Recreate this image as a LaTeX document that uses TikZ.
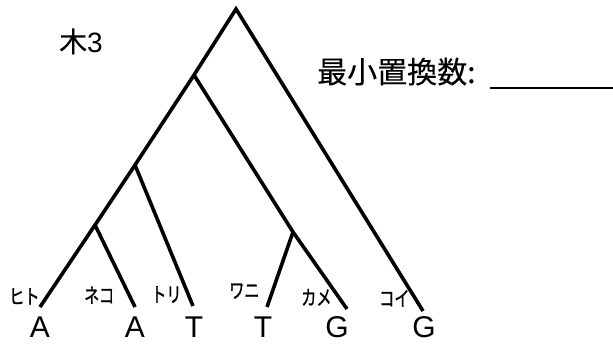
\documentclass[tikz,border=0pt]{standalone}
\usepackage{graphicx}
\usepackage{fontspec}
\setmainfont{Liberation Sans}
\newfontfamily\jp[FakeBold=0.3]{Noto Sans CJK JP}
\newfontfamily\jpsmall[FakeBold=1.2]{Noto Sans CJK JP}
\newcommand{\narrowjp}[1]{\scalebox{0.74}[1]{#1}}
\begin{document}
\begin{tikzpicture}[x=1pt,y=-1pt,
  branch/.style={line width=3.6pt},
  base/.style={font=\fontsize{30}{30}\selectfont, inner sep=0pt, anchor=base},
  sp/.style={font=\jpsmall\fontsize{20.5}{20.5}\selectfont, inner sep=0pt, anchor=base west}]
\useasboundingbox (0,0) rectangle (613,343);
% tree points
\coordinate (root) at (236,9);
\coordinate (n1) at (194,75);
\coordinate (n2) at (135,165);
\coordinate (n3) at (95,225);
\coordinate (n4) at (293,232);
\coordinate (l1) at (40,307);
\coordinate (l2) at (135,307);
\coordinate (l3) at (193,306);
\coordinate (l4) at (267,307);
\coordinate (l5) at (347,309);
\coordinate (l6) at (423,311);
\draw[branch] (l1) -- (n3) -- (n2) -- (n1) -- (root) -- (l6);
\draw[branch] (n3) -- (l2);
\draw[branch] (n2) -- (l3);
\draw[branch] (n1) -- (n4) -- (l5);
\draw[branch] (n4) -- (l4);
% bases
\node[base] (b1) at (40,337) {A};
\node[base] (b2) at (135,337) {A};
\node[base] (b3) at (194,337) {T};
\node[base] (b4) at (263,337) {T};
\node[base] (b5) at (337,337) {G};
\node[base] (b6) at (424,337) {G};
% species
\node[sp] (s1) at (9,304) {\narrowjp{ヒト}};
\node[sp] (s2) at (84,303) {\narrowjp{ネコ}};
\node[sp] (s3) at (151,302) {\narrowjp{トリ}};
\node[sp] (s4) at (229,298) {\narrowjp{ワニ}};
\node[sp] (s5) at (301,305) {\narrowjp{カメ}};
\node[sp] (s6) at (379,306) {\narrowjp{コイ}};
% titles
\node[inner sep=0pt, anchor=base west, font=\fontsize{28}{28}\selectfont] (t) at (59,52) {{\jp 木}3};
\node[inner sep=0pt, anchor=base west, font=\jp\fontsize{30}{30}\selectfont] (q) at (317,83) {最小置換数:};
\coordinate (u1) at (490,88);
\coordinate (u2) at (613,88);
\draw[line width=1.8pt] (u1) -- (u2);
\end{tikzpicture}
\end{document}
